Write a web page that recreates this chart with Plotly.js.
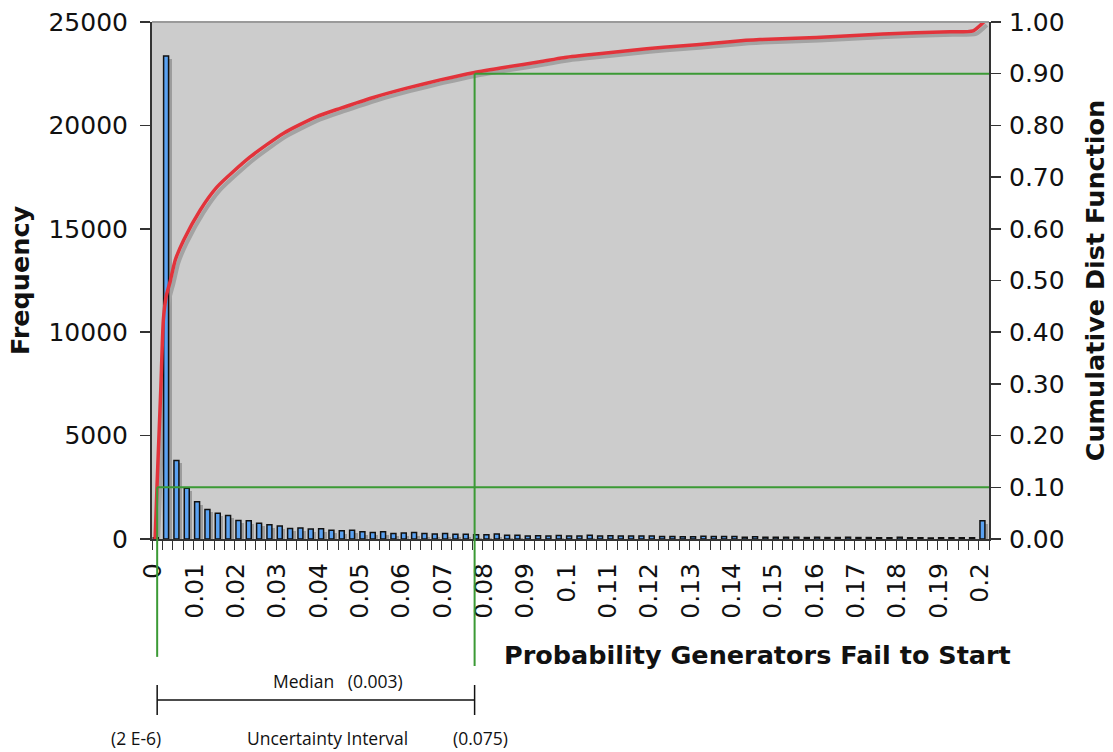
<!DOCTYPE html>
<html><head><meta charset="utf-8">
<script src="https://cdn.plot.ly/plotly-3.0.1.min.js"></script>
<style>html,body{margin:0;padding:0;background:#fff;}#chart{width:1113px;height:752px;}</style>
</head><body><div id="chart"></div>
<script>
// Histogram bins (category centres) and frequencies
const binX = [0,0.0025,0.005,0.0075,0.01,0.0125,0.015,0.0175,0.02,0.0225,0.025,0.0275,0.03,0.0325,0.035,0.0375,0.04,0.0425,0.045,0.0475,0.05,0.0525,0.055,0.0575,0.06,0.0625,0.065,0.0675,0.07,0.0725,0.075,0.0775,0.08,0.0825,0.085,0.0875,0.09,0.0925,0.095,0.0975,0.1,0.1025,0.105,0.1075,0.11,0.1125,0.115,0.1175,0.12,0.1225,0.125,0.1275,0.13,0.1325,0.135,0.1375,0.14,0.1425,0.145,0.1475,0.15,0.1525,0.155,0.1575,0.16,0.1625,0.165,0.1675,0.17,0.1725,0.175,0.1775,0.18,0.1825,0.185,0.1875,0.19,0.1925,0.195,0.1975,0.2];
const frequency = [60,23350,3800,2450,1800,1430,1240,1140,900,885,760,690,630,510,530,480,500,420,400,420,350,320,350,270,290,310,260,240,260,230,230,210,210,240,180,180,150,160,150,170,150,150,180,140,160,150,140,150,140,120,120,110,110,130,120,120,120,90,110,80,90,80,80,70,80,70,70,80,70,70,60,60,80,60,60,50,60,60,60,60,880];

// Cumulative distribution function
const cdfX = [-0.0005,0,0.0009,0.0015,0.0022,0.0032,0.0044,0.0064,0.0104,0.0145,0.0225,0.0306,0.0386,0.0443,0.0523,0.0604,0.0685,0.0765,0.0846,0.0926,0.0983,0.1063,0.1144,0.1225,0.1305,0.1386,0.1458,0.1595,0.1756,0.1918,0.1974,0.2];
const cdfY = [0,0.11,0.295,0.424,0.47,0.50,0.54,0.578,0.636,0.681,0.739,0.785,0.817,0.833,0.854,0.872,0.888,0.902,0.913,0.923,0.931,0.938,0.945,0.951,0.956,0.962,0.966,0.970,0.977,0.981,0.983,1.0];

// Tick labels
const xTickVals = [0,0.01,0.02,0.03,0.04,0.05,0.06,0.07,0.08,0.09,0.1,0.11,0.12,0.13,0.14,0.15,0.16,0.17,0.18,0.19,0.2];
const xTickText = ["0","0.01","0.02","0.03","0.04","0.05","0.06","0.07","0.08","0.09","0.1","0.11","0.12","0.13","0.14","0.15","0.16","0.17","0.18","0.19","0.2"];

// Uncertainty interval markers
const lowBound = 0;        // 2 E-6
const highBound = 0.0768;  // 0.075
const lowCdf = 0.1;
const highCdf = 0.9;

const xRange = [-0.00125, 0.20125];
const plotH = 517, plotW = 837;
const shX = 3 / plotW * (xRange[1] - xRange[0]);
const shYbar = 3 / plotH * 25000;
const shYcdf = 3 / plotH;

const tickFont = {family: 'DejaVu Sans, Verdana, sans-serif', size: 25, color: '#111'};
const titleFont = {family: 'DejaVu Sans, Verdana, sans-serif', size: 25.5, color: '#111', weight: 'bold'};
const noteFont = {family: 'Open Sans, Noto Sans, sans-serif', size: 17.5, color: '#111'};

const traces = [
  {type: 'bar', x: binX, y: frequency, xaxis: 'x', yaxis: 'y', width: 0.0012, offset: -0.00094,
   marker: {color: '#9c9c9c', line: {width: 0}}, hoverinfo: 'skip', showlegend: false},
  {type: 'scatter', mode: 'lines', x: cdfX, y: cdfY, xaxis: 'x', yaxis: 'y4',
   line: {color: '#a3a3a3', width: 4, shape: 'spline', smoothing: 0.6}, hoverinfo: 'skip', showlegend: false},
  {type: 'bar', x: binX, y: frequency, xaxis: 'x2', yaxis: 'y2', width: 0.0012, offset: -0.00094,
   marker: {color: '#5aa2f2', line: {color: '#111', width: 1.5}}, showlegend: false},
  {type: 'scatter', mode: 'lines', x: cdfX, y: cdfY, xaxis: 'x2', yaxis: 'y3',
   line: {color: '#e2333b', width: 3.5, shape: 'spline', smoothing: 0.6}, showlegend: false}
];

const green = '#3b9a35';
const shapes = [
  {type: 'line', xref: 'paper', yref: 'paper', x0: 0, x1: 1, y0: 1, y1: 1, line: {color: '#9a9a9a', width: 2}},
  {type: 'line', xref: 'x2', yref: 'paper', x0: lowBound, x1: xRange[1], y0: lowCdf, y1: lowCdf, line: {color: green, width: 2}},
  {type: 'line', xref: 'x2', yref: 'paper', x0: highBound, x1: xRange[1], y0: highCdf, y1: highCdf, line: {color: green, width: 2}},
  {type: 'line', xref: 'x2', yref: 'paper', x0: lowBound, x1: lowBound, y0: lowCdf, y1: -0.228, line: {color: green, width: 2}},
  {type: 'line', xref: 'x2', yref: 'paper', x0: highBound, x1: highBound, y0: highCdf, y1: -0.2456, line: {color: green, width: 2}},
  {type: 'line', xref: 'x2', yref: 'paper', x0: lowBound, x1: highBound, y0: -0.3114, y1: -0.3114, line: {color: '#111', width: 1.5}},
  {type: 'line', xref: 'x2', yref: 'paper', x0: lowBound, x1: lowBound, y0: -0.2824, y1: -0.3404, line: {color: '#111', width: 1.5}},
  {type: 'line', xref: 'x2', yref: 'paper', x0: highBound, x1: highBound, y0: -0.2824, y1: -0.3404, line: {color: '#111', width: 1.5}}
];

const annotations = [
  {text: 'Probability Generators Fail to Start', xref: 'paper', yref: 'paper', x: 0.724, y: -0.2244, xanchor: 'center', yanchor: 'middle', showarrow: false, font: titleFont},
  {text: 'Median\u00a0\u00a0\u00a0(0.003)', xref: 'paper', yref: 'paper', x: 0.2222, y: -0.2747, xanchor: 'center', yanchor: 'middle', showarrow: false, font: noteFont},
  {text: '(2 E-6)', xref: 'paper', yref: 'paper', x: -0.0191, y: -0.3849, xanchor: 'center', yanchor: 'middle', showarrow: false, font: noteFont},
  {text: 'Uncertainty Interval', xref: 'paper', yref: 'paper', x: 0.2091, y: -0.3849, xanchor: 'center', yanchor: 'middle', showarrow: false, font: noteFont},
  {text: '(0.075)', xref: 'paper', yref: 'paper', x: 0.3919, y: -0.3849, xanchor: 'center', yanchor: 'middle', showarrow: false, font: noteFont}
];

const layout = {
  width: 1113, height: 752,
  margin: {l: 152, r: 124, t: 22, b: 213},
  paper_bgcolor: '#ffffff', plot_bgcolor: '#cccccc',
  showlegend: false, bargap: 0,
  xaxis: {range: [xRange[0] - shX, xRange[1] - shX], visible: false, fixedrange: true},
  yaxis: {range: [shYbar, 25000 + shYbar], visible: false, fixedrange: true},
  yaxis4: {range: [shYcdf, 1 + shYcdf], overlaying: 'y', visible: false, fixedrange: true},
  xaxis2: {
    overlaying: 'x', anchor: 'y2', side: 'bottom', range: xRange,
    tickmode: 'array', tickvals: xTickVals, ticktext: xTickText, tickangle: -90,
    ticks: '', showgrid: false, zeroline: false, showline: true, linecolor: '#333', linewidth: 2,
    tickfont: tickFont, ticklabelstandoff: 12, ticklabelshift: -4,
    minor: {tickmode: 'linear', tick0: -0.00125, dtick: 0.0025, ticks: 'outside', ticklen: 9, tickcolor: '#333', tickwidth: 1, showgrid: false}
  },
  yaxis2: {
    overlaying: 'y', anchor: 'x2', side: 'left', range: [0, 25000], dtick: 5000, tickformat: 'd',
    ticks: 'outside', ticklen: 10, tickcolor: '#333', tickwidth: 1.5, showgrid: false, zeroline: false,
    showline: true, linecolor: '#333', linewidth: 2, tickfont: tickFont, ticklabelstandoff: 7,
    title: {text: 'Frequency', font: titleFont, standoff: 12}
  },
  yaxis3: {
    overlaying: 'y', anchor: 'x2', side: 'right', range: [0, 1], dtick: 0.1, tickformat: '.2f',
    ticks: 'outside', ticklen: 10, tickcolor: '#333', tickwidth: 1.5, showgrid: false, zeroline: false,
    showline: true, linecolor: '#333', linewidth: 2, tickfont: tickFont, ticklabelstandoff: 3,
    title: {text: 'Cumulative Dist Function', font: titleFont, standoff: 22}
  },
  shapes: shapes,
  annotations: annotations
};

Plotly.newPlot('chart', traces, layout, {displayModeBar: false, staticPlot: true});
</script>
</body></html>
